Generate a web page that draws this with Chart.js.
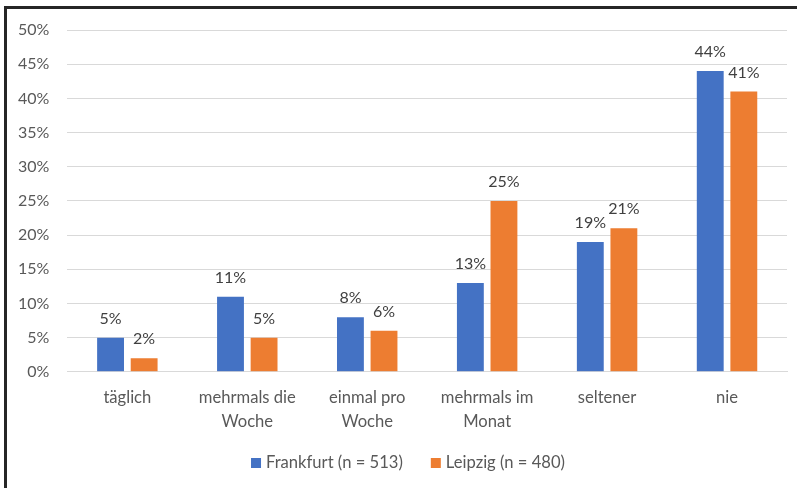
<!DOCTYPE html>
<html lang="de">
<head>
<meta charset="utf-8">
<script src="https://cdn.jsdelivr.net/npm/chart.js@4.4.1/dist/chart.umd.min.js"></script>
<style>
  html, body { margin: 0; padding: 0; background: #fff; }
  #wrap { position: relative; width: 797px; height: 488px; overflow: hidden; }
  #chart { position: absolute; left: 0; top: 0; }
  .frame-left { position: absolute; left: 4px; top: 6px; width: 3px; height: 482px; background: #262626; }
  .frame-top { position: absolute; left: 4px; top: 6px; width: 793px; height: 3px; background: #262626; }
</style>
</head>
<body>
<div id="wrap">
  <canvas id="chart" width="797" height="488"></canvas>
  <div class="frame-left"></div>
  <div class="frame-top"></div>
</div>
<script>
const categories = [
  ["täglich"],
  ["mehrmals die", "Woche"],
  ["einmal pro", "Woche"],
  ["mehrmals im", "Monat"],
  ["seltener"],
  ["nie"],
];
const frankfurt = [5, 11, 8, 13, 19, 44];
const leipzig = [2, 5, 6, 25, 21, 41];
const seriesNames = ["Frankfurt (n = 513)", "Leipzig (n = 480)"];
const seriesColors = ["#4472C4", "#ED7D31"];
const yTicks = [0, 5, 10, 15, 20, 25, 30, 35, 40, 45, 50];

const FONT = "Lato, 'Noto Sans', sans-serif";
const fmtPct = (v) => `${v}%`;

// value labels above each bar
const valueLabels = {
  id: "valueLabels",
  afterDatasetsDraw(chart) {
    const { ctx } = chart;
    ctx.save();
    ctx.font = `16px ${FONT}`;
    ctx.fillStyle = "#404040";
    ctx.textAlign = "center";
    ctx.textBaseline = "middle";
    chart.data.datasets.forEach((ds, di) => {
      chart.getDatasetMeta(di).data.forEach((bar, i) => {
        ctx.fillText(fmtPct(ds.data[i]), bar.x, bar.y - 19);
      });
    });
    ctx.restore();
  },
};

// legend row under the axis labels
const bottomLegend = {
  id: "bottomLegend",
  afterDraw(chart) {
    const { ctx } = chart;
    const box = 10;
    const textGap = 5;
    const itemGap = 28;
    ctx.save();
    ctx.font = `16.6px ${FONT}`;
    ctx.textBaseline = "middle";
    const items = chart.data.datasets.map((ds) => ({
      label: ds.label,
      color: ds.backgroundColor,
      w: box + textGap + ctx.measureText(ds.label).width,
    }));
    const total = items.reduce((s, it) => s + it.w, 0) + itemGap * (items.length - 1);
    let x = 408 - total / 2;
    const y = 463;
    for (const it of items) {
      ctx.fillStyle = it.color;
      ctx.fillRect(x, y - box / 2, box, box);
      ctx.fillStyle = "#595959";
      ctx.fillText(it.label, x + box + textGap, y);
      x += it.w + itemGap;
    }
    ctx.restore();
  },
};

new Chart(document.getElementById("chart"), {
  type: "bar",
  data: {
    labels: categories,
    datasets: [
      { label: seriesNames[0], data: frankfurt, backgroundColor: seriesColors[0] },
      { label: seriesNames[1], data: leipzig, backgroundColor: seriesColors[1] },
    ],
  },
  options: {
    responsive: false,
    animation: false,
    layout: { padding: { left: 0, right: 10, top: 30, bottom: 40 } },
    datasets: { bar: { categoryPercentage: 0.56, barPercentage: 0.8 } },
    plugins: {
      legend: { display: false },
      tooltip: { enabled: false },
    },
    scales: {
      x: {
        grid: { display: false, drawTicks: false },
        border: { display: true, color: "#d9d9d9", width: 1 },
        ticks: {
          padding: 14,
          color: "#595959",
          font: { family: FONT, size: 16.6, lineHeight: 1.45 },
          maxRotation: 0,
          autoSkip: false,
        },
      },
      y: {
        min: 0,
        max: 50,
        afterBuildTicks(scale) {
          scale.ticks = yTicks.map((value) => ({ value }));
        },
        grid: { color: "#d9d9d9", drawTicks: false },
        border: { display: false },
        ticks: {
          padding: 18,
          color: "#595959",
          font: { family: FONT, size: 16 },
          callback: (v) => fmtPct(v),
        },
      },
    },
  },
  plugins: [valueLabels, bottomLegend],
});
</script>
</body>
</html>
